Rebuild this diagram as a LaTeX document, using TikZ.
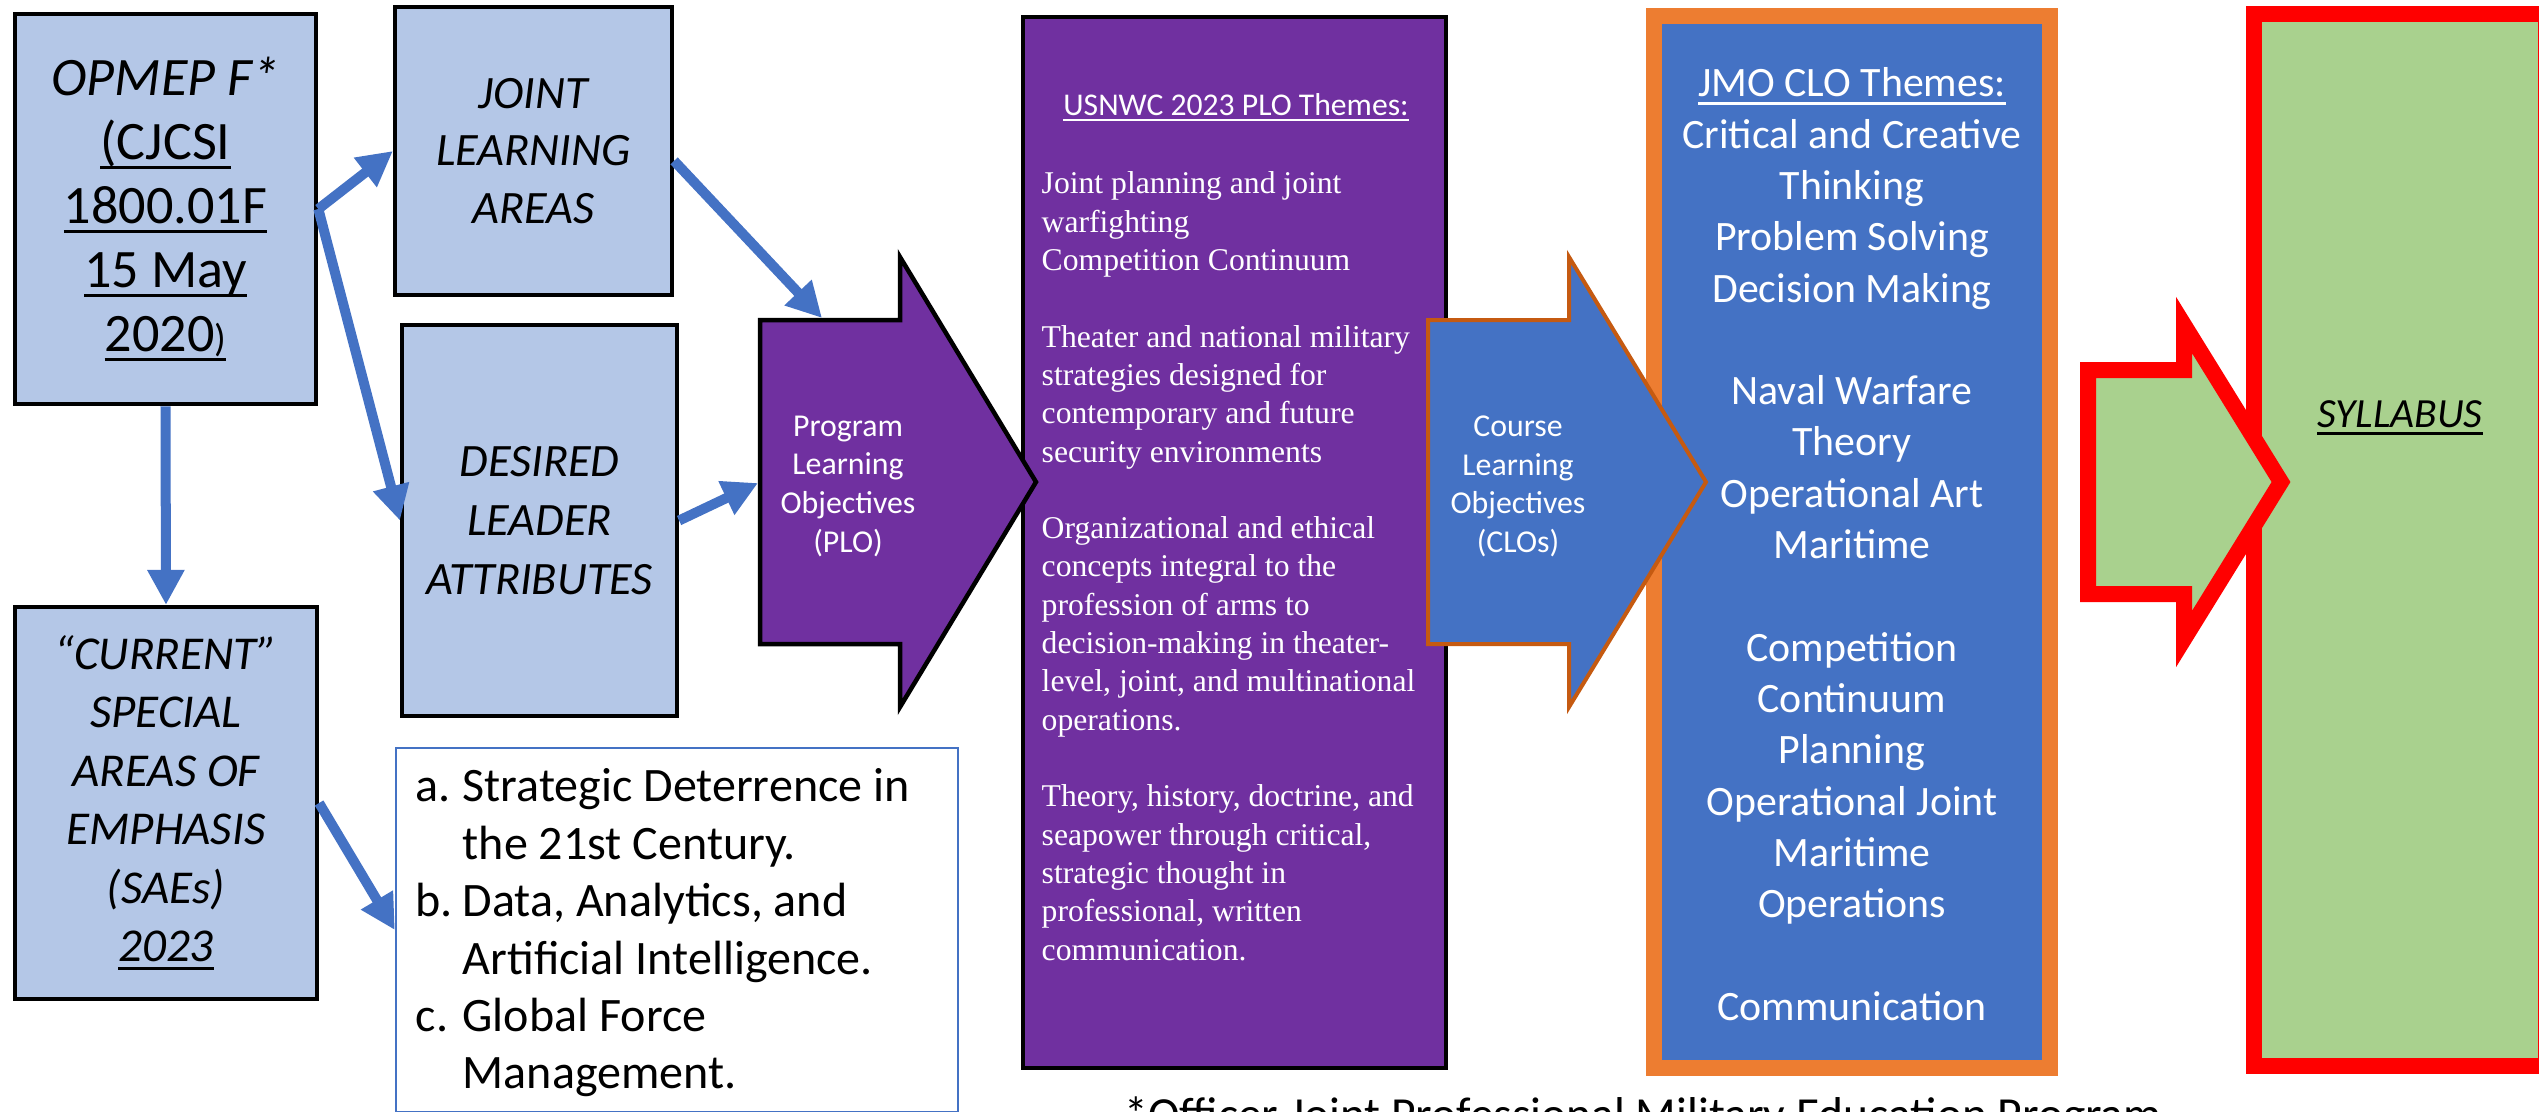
\documentclass[tikz,border=0pt]{standalone}
\usepackage{fontspec}
\setmainfont{Carlito}
\newfontfamily\plofont{Liberation Serif}
\usetikzlibrary{arrows.meta}

\definecolor{ojblue}{HTML}{B4C7E7}
\definecolor{plopurple}{HTML}{7030A0}
\definecolor{cloblue}{HTML}{4472C4}
\definecolor{jmoorange}{HTML}{ED7D31}
\definecolor{cloedge}{HTML}{C55A11}
\definecolor{sylgreen}{HTML}{A9D18E}
\definecolor{sylred}{HTML}{FF0000}

\newsavebox{\ojbox}
\newcommand{\ojline}[1]{\sbox{\ojbox}{#1}\rlap{\rule[-0.19em]{\wd\ojbox}{0.07em}}\usebox{\ojbox}}
\newcommand{\smallparen}{\raisebox{0pt}{\fontsize{11}{12}\selectfont)}}

\begin{document}
\begin{tikzpicture}[x=0.01cm, y=-0.01cm]
	\tikzset{flow lines/.style={line width=0.1cm, cloblue, -{Triangle[length=0.35cm, width=0.35cm]}},
		oj box/.style={draw=black, line width=0.045cm, fill=ojblue, inner sep=0pt, align=center},
		theme box/.style={inner sep=0pt, minimum height=10.52cm},
		white text/.style={text=white, inner sep=0pt, align=center}}
	% \draw[help lines] (0, 0) grid (2539, 1111);
	\useasboundingbox (0, 0) rectangle (2539, 1111);
	\clip (0, 0) rectangle (2539, 1111);

	% syllabus
	\node[theme box, draw=sylred, line width=0.16cm, fill=sylgreen, minimum width=2.92cm] (syl) at (2400, 540) {};
	\node[inner sep=0pt, anchor=base, font=\itshape\fontsize{11.8}{14}\selectfont] (syllabus) at (2400, 427) {\ojline{SYLLABUS}};
	\draw[line width=0.16cm, sylred, fill=sylgreen] (2088, 370) -- (2184, 370) -- (2184, 325) -- (2281, 482)
		-- (2184, 639) -- (2184, 594) -- (2088, 594) -- cycle;

	% JMO themes
	\node[theme box, draw=jmoorange, line width=0.16cm, fill=cloblue, minimum width=3.96cm] (jmo) at (1852, 542) {};
	\node[white text, anchor=north, font=\fontsize{11.9}{14.59}\selectfont] (jmotext) at (1852, 67)
	{\ojline{JMO CLO Themes:}\\Critical and Creative\\Thinking\\Problem Solving\\Decision Making\\[14.59pt]
		Naval Warfare\\Theory\\Operational Art\\Maritime\\[14.59pt]
		Competition\\Continuum\\Planning\\Operational Joint\\Maritime\\Operations\\[14.59pt]
		Communication};

	% PLO themes
	\node[theme box, draw=black, line width=0.045cm, fill=plopurple, minimum width=4.225cm, minimum height=10.505cm] (plo) at (1234.5, 542.5) {};
	\node[white text, anchor=base, font=\fontsize{9}{11}\selectfont] (plotitle) at (1236, 115) {\ojline{USNWC 2023 PLO Themes:}};
	\node[white text, align=left, anchor=north west, font=\plofont\fontsize{9}{10.9}\selectfont] (plotext) at (1041, 171)
	{Joint planning and joint\\warfighting\\Competition Continuum\\[10.9pt]
		Theater and national military\\strategies designed for\\contemporary and future\\security environments\\[10.9pt]
		Organizational and ethical\\concepts integral to the\\profession of arms to\\decision-making in theater-\\level, joint, and multinational\\operations.\\[10.9pt]
		Theory, history, doctrine, and\\seapower through critical,\\strategic thought in\\professional, written\\communication.};

	% CLO arrow
	\draw[line width=0.04cm, cloedge, fill=cloblue] (1428, 320) -- (1569, 320) -- (1569, 257) -- (1706, 482)
		-- (1569, 707) -- (1569, 644) -- (1428, 644) -- cycle;
	\node[white text, anchor=north, font=\fontsize{9.05}{11}\selectfont] (clo) at (1518, 415) {Course\\Learning\\Objectives\\(CLOs)};

	% PLO arrow
	\draw[line width=0.045cm, black, fill=plopurple] (760, 320) -- (900, 320) -- (900, 257) -- (1036, 482)
		-- (900, 707) -- (900, 644) -- (760, 644) -- cycle;
	\node[white text, anchor=north, font=\fontsize{9.05}{11}\selectfont] (plotag) at (848, 415) {Program\\Learning\\Objectives\\(PLO)};
	\coordinate (plo top) at (822, 318);
	\coordinate (plo side) at (758, 483);

	% left column
	\node[oj box, minimum width=3.01cm, minimum height=3.9cm, font=\fontsize{15.4}{18.2}\selectfont] (opmep) at (165.5, 209)
	{\textit{OPMEP F*}\\\ojline{(CJCSI}\\\ojline{1800.01F}\\\ojline{15 May}\\\ojline{2020\smallparen}};
	\node[oj box, minimum width=2.765cm, minimum height=2.875cm, font=\itshape\fontsize{13.2}{16.4}\selectfont] (jla) at (533.5, 151)
	{JOINT\\LEARNING\\AREAS};
	\node[oj box, minimum width=2.745cm, minimum height=3.905cm, font=\itshape\fontsize{13.2}{16.8}\selectfont] (dla) at (539.5, 520.5)
	{DESIRED\\LEADER\\ATTRIBUTES};
	\node[oj box, minimum width=3.015cm, minimum height=3.915cm, font=\itshape\fontsize{13.4}{16.6}\selectfont] (sae) at (166, 803)
	{“CURRENT”\\SPECIAL\\AREAS OF\\EMPHASIS\\(SAEs)\\\ojline{2023}};

	\node[draw=cloblue, line width=0.02cm, minimum width=5.62cm, minimum height=3.64cm, inner sep=0pt] (saelist) at (677, 930) {};
	\node[inner sep=0pt, align=left, anchor=north west, font=\fontsize{13.66}{16.33}\selectfont] (saetext) at (415, 768)
	{\makebox[0.47cm][l]{a.}Strategic Deterrence in\\\hspace*{0.47cm}the 21st Century.\\
		\makebox[0.47cm][l]{b.}Data, Analytics, and\\\hspace*{0.47cm}Artificial Intelligence.\\
		\makebox[0.47cm][l]{c.}Global Force\\\hspace*{0.47cm}Management.};

	\node[inner sep=0pt, anchor=base west, font=\fontsize{13.5}{16}\selectfont] (footnote) at (1124, 1130)
	{*Officer Joint Professional Military Education Program};

	\draw[flow lines] (opmep.east) -- (jla.west);
	\draw[flow lines] (opmep.east) -- (dla.west);
	\draw[flow lines] (opmep.south) -- (sae.north);
	\draw[flow lines] (jla.-4) -- (plo top);
	\draw[flow lines] (dla.east) -- (plo side);
	\draw[flow lines] (sae.east) -- (saelist.west);
\end{tikzpicture}
\end{document}
